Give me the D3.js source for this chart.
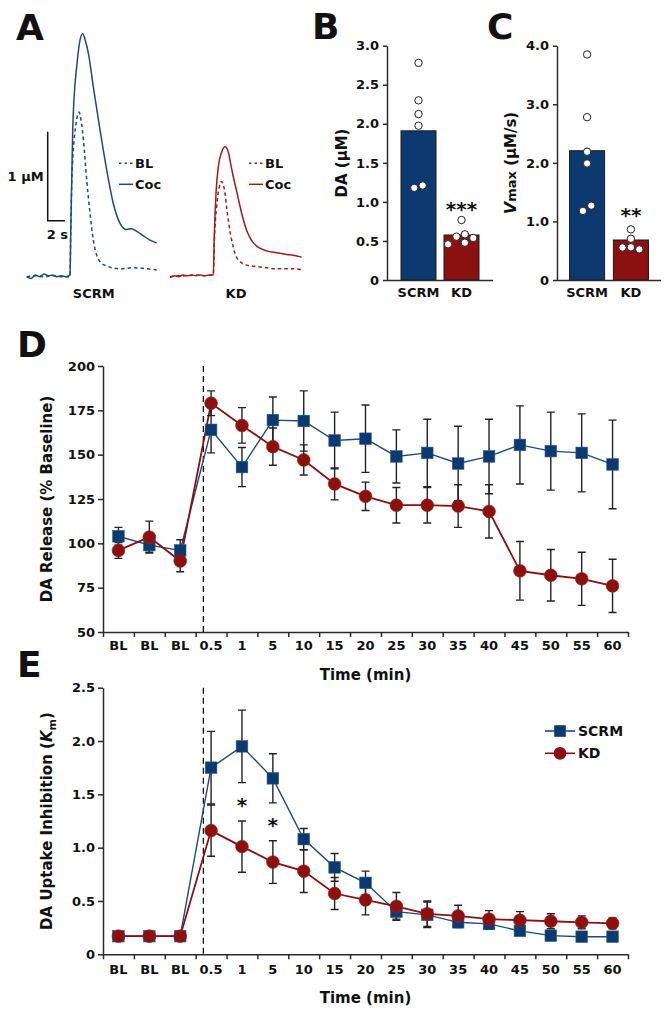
<!DOCTYPE html>
<html><head><meta charset="utf-8">
<script src="https://cdn.jsdelivr.net/npm/d3@7"></script>
<style>
body{margin:0;background:#fff}
svg{display:block}
text{font-family:"DejaVu Sans",sans-serif;font-weight:bold;fill:#111}
</style>
</head><body><svg id="c" width="670" height="1017"></svg>
<script>
// ---------------- DATA ----------------
// Panel A traces (time s, DA µM)
const scrmCocT = [0,0.5,1,1.5,2,2.5,3,3.5,4,4.5,5.0,5.08,5.19,5.3,5.46,5.77,6.08,6.46,6.75,7.12,7.69,8.46,9.23,10.0,10.77,11.54,12.1,12.7,13.46,14.23,15];
const scrmCocV = [0,-0.02,0.02,0.0,0.03,0.01,0.02,0.0,0.01,0.0,0.02,0.49,1.05,1.61,2.0,2.36,2.62,2.73,2.66,2.51,2.13,1.65,1.20,0.82,0.60,0.53,0.54,0.51,0.46,0.41,0.38];
const scrmBlT = [0,1,2,3,4,5.0,5.08,5.19,5.38,5.65,6.04,6.27,6.54,6.92,7.31,7.69,8.08,8.46,9.23,10.77,12.3,13.85,15];
const scrmBlV = [0,0.01,0.0,0.01,0.0,0.0,0.49,1.01,1.42,1.69,1.85,1.76,1.54,1.09,0.71,0.41,0.24,0.17,0.12,0.09,0.10,0.09,0.075];
const kdCocT = [0,0.5,1,1.5,2,2.5,3,3.5,4,4.5,5.0,5.12,5.31,5.58,5.96,6.35,6.73,7.0,7.31,7.69,8.08,8.46,8.85,9.23,9.62,10.38,11.15,12.3,13.46,14.23,15.2];
const kdCocV = [-0.01,0.01,0.0,0.02,0.01,0.02,0.01,0.02,0.01,0.02,0.02,0.49,0.94,1.24,1.40,1.46,1.40,1.27,1.12,0.96,0.79,0.64,0.52,0.44,0.38,0.32,0.29,0.27,0.25,0.24,0.22];
const kdBlT = [0,1,2,3,4,5.0,5.12,5.38,5.69,5.96,6.15,6.35,6.54,6.73,6.92,7.12,7.5,8.08,8.85,10.38,12.3,14.23,15.2];
const kdBlV = [0,0.01,0.01,0.02,0.01,0.02,0.41,0.79,1.01,1.07,1.03,0.94,0.77,0.64,0.51,0.41,0.26,0.17,0.13,0.11,0.09,0.09,0.08];

// Panel B / C
const groups = ["SCRM","KD"];
const daMeans = [1.91, 0.576];
const daSCRM = [2.78, 2.30, 2.125, 1.975, 1.21, 1.18];
const daKD = [0.768, 0.585, 0.555, 0.538, 0.478, 0.457];
const daTicks = [0,0.5,1.0,1.5,2.0,2.5,3.0];
const vmaxMeans = [2.207, 0.683];
const vmaxSCRM = [3.85, 2.78, 2.19, 1.99, 1.27, 1.18];
const vmaxKD = [0.865, 0.705, 0.558, 0.555, 0.523];
const vmaxTicks = [0,1.0,2.0,3.0,4.0];

// Panel D / E
const timeLabels = ["BL","BL","BL","0.5","1","5","10","15","20","25","30","35","40","45","50","55","60"];
const releaseSCRM = [104, 99, 96, 164, 143, 169.5, 169, 158, 159, 149, 151, 145, 149, 155.5, 152, 151, 144.5];
const releaseSCRMErr = [5, 4, 6, 13, 11, 13, 17, 16, 19, 15, 19, 21, 21, 22, 22, 22, 25];
const releaseKD = [96, 103.5, 90, 179, 166.5, 154.5, 147, 133.5, 126.5, 121.5, 121.5, 121, 118, 84.5, 82, 80, 76];
const releaseKDErr = [4.5, 9, 6, 7, 10, 10.5, 8.5, 9, 8, 10, 10, 12, 15, 16.5, 14.5, 15, 15];
const releaseTicks = [50,75,100,125,150,175,200];
const uptakeSCRM = [0.17,0.17,0.17,1.75,1.95,1.65,1.08,0.815,0.67,0.40,0.37,0.30,0.285,0.22,0.175,0.165,0.165];
const uptakeSCRMErr = [0.02,0.02,0.02,0.34,0.34,0.23,0.10,0.13,0.11,0.07,0.12,0.05,0.05,0.04,0.03,0.03,0.03];
const uptakeKD = [0.17,0.17,0.17,1.16,1.01,0.865,0.78,0.57,0.51,0.45,0.38,0.36,0.33,0.32,0.31,0.30,0.29];
const uptakeKDErr = [0.02,0.02,0.02,0.24,0.24,0.20,0.20,0.15,0.14,0.13,0.12,0.10,0.08,0.08,0.07,0.06,0.05];
const uptakeTicks = [0,0.5,1.0,1.5,2.0,2.5];
const uptakeStars = ["1","5"];

// ---------------- STYLE ----------------
const NAVY = "#0c3a70", RED = "#8b1010";
const TBLUE = "#1d4a7f", TRED = "#a01c1c";
const AX = "#2a2a2a";
const svg = d3.select("#c");

function letter(t, x, y){ svg.append("text").attr("x",x).attr("y",y).attr("font-size",36).text(t); }
letter("A",16,40); letter("B",312,39); letter("C",487,39); letter("D",17,357); letter("E",17,677);

function styleAxis(g){
  g.selectAll("path.domain").attr("stroke",AX).attr("stroke-width",1.5);
  g.selectAll(".tick line").attr("stroke",AX).attr("stroke-width",1.5);
  g.selectAll(".tick text").attr("font-size",13).attr("font-family","DejaVu Sans").attr("font-weight","bold").attr("fill","#111");
}

// ---------------- PANEL A ----------------
const aY = d3.scaleLinear().domain([0,1]).range([276.7,187.7]);
const aXS = d3.scaleLinear().domain([0,15]).range([26.7,156.7]);
const aXK = d3.scaleLinear().domain([0,15]).range([170,300]);
function trace(xs, T, V, color, dashed){
  const line = d3.line().x((d,i)=>xs(T[i])).y(d=>aY(d)).curve(d3.curveMonotoneX);
  svg.append("path").attr("d", line(V)).attr("fill","none").attr("stroke",color)
    .attr("stroke-width",1.5).attr("stroke-dasharray", dashed ? "3.5,3" : null);
}
trace(aXS, scrmBlT, scrmBlV, TBLUE, true);
trace(aXS, scrmCocT, scrmCocV, TBLUE, false);
trace(aXK, kdBlT, kdBlV, TRED, true);
trace(aXK, kdCocT, kdCocV, TRED, false);
// scale bar
{
  const bx = 47.7, by = 220.7;
  const h = aY(0)-aY(1), w = aXS(2)-aXS(0);
  svg.append("path").attr("d",`M${bx},${by-h}V${by}H${bx+w}`).attr("fill","none").attr("stroke","#111").attr("stroke-width",1.5);
  svg.append("text").attr("x",bx-4).attr("y",by-h/2+5).attr("text-anchor","end").attr("font-size",13).text("1 µM");
  svg.append("text").attr("x",bx+w/2+1).attr("y",by+18).attr("text-anchor","middle").attr("font-size",13).text("2 s");
}
function aLegend(x, color){
  svg.append("line").attr("x1",x).attr("x2",x+14).attr("y1",163.3).attr("y2",163.3).attr("stroke",color).attr("stroke-width",1.5).attr("stroke-dasharray","2.5,3");
  svg.append("text").attr("x",x+16).attr("y",168).attr("font-size",13).text("BL");
  svg.append("line").attr("x1",x).attr("x2",x+14).attr("y1",184.3).attr("y2",184.3).attr("stroke",color).attr("stroke-width",1.5);
  svg.append("text").attr("x",x+16).attr("y",189).attr("font-size",13).text("Coc");
}
aLegend(119, TBLUE); aLegend(249, TRED);
svg.append("text").attr("x",(aXS(0)+aXS(15))/2+2).attr("y",298).attr("text-anchor","middle").attr("font-size",13).text("SCRM");
svg.append("text").attr("x",(aXK(0)+aXK(15))/2+1).attr("y",298).attr("text-anchor","middle").attr("font-size",13).text("KD");

// ---------------- PANELS B / C ----------------
function dodge(vals, y, cx, r, d){
  const placed = [];
  vals.forEach(v=>{
    const py = y(v);
    for (const k of [0,-1,1,-2,2]){
      const px = cx + k*d;
      if (placed.every(p=>Math.hypot(p.x-px,p.y-py) >= 2*r)){ placed.push({x:px,y:py}); return; }
    }
    placed.push({x:cx,y:py});
  });
  // centre each vertically-chained cluster on the bar centre
  const sorted = placed.slice().sort((a,b)=>a.y-b.y);
  let cluster = [sorted[0]];
  const flush = c => { const m = d3.mean(c, p=>p.x) - cx; c.forEach(p=>p.x -= m); };
  for (let i=1;i<sorted.length;i++){
    if (sorted[i].y - sorted[i-1].y < 2*r) cluster.push(sorted[i]);
    else { flush(cluster); cluster = [sorted[i]]; }
  }
  flush(cluster);
  return placed;
}
function barPanel(opt){
  const g = svg.append("g");
  const x = d3.scaleBand().domain(groups).range(opt.xr).paddingInner(opt.pi).paddingOuter(opt.po);
  const y = d3.scaleLinear().domain([0,opt.ymax]).range([280,45.7]);
  g.selectAll("rect.bar").data(opt.means).join("rect")
    .attr("x",(d,i)=>x(groups[i])).attr("width",x.bandwidth())
    .attr("y",d=>y(d)).attr("height",d=>y(0)-y(d))
    .attr("fill",(d,i)=>i===0?NAVY:RED).attr("stroke","#1a1a1a").attr("stroke-width",1);
  [opt.dotsS, opt.dotsK].forEach((vals,i)=>{
    const cx = x(groups[i]) + x.bandwidth()/2;
    const pts = dodge(vals, y, cx, 3.9, 8.4);
    g.selectAll(null).data(pts).join("circle")
      .attr("cx",p=>p.x).attr("cy",p=>p.y).attr("r",3.7)
      .attr("fill","#fff").attr("stroke","#222").attr("stroke-width",1);
  });
  const ya = g.append("g").attr("transform",`translate(${opt.xr[0]},0)`)
    .call(d3.axisLeft(y).tickValues(opt.ticks).tickFormat(opt.fmt).tickSize(4).tickSizeOuter(0).tickPadding(4));
  styleAxis(ya);
  const xa = g.append("g").attr("transform",`translate(0,280)`)
    .call(d3.axisBottom(x).tickSize(0).tickPadding(8).tickSizeOuter(0));
  styleAxis(xa);
  xa.select("path.domain").attr("d",`M${opt.xr[0]},0.5H${opt.xr[1]}`);
  const kdTop = y(d3.max(opt.dotsK));
  g.append("text").attr("x",x("KD")+x.bandwidth()/2).attr("y",kdTop-opt.sg).attr("text-anchor","middle")
    .attr("font-size",20).text(opt.stars);
  return g;
}
barPanel({xr:[387,493], pi:0.186, po:0.326, ymax:3, ticks:daTicks, sg:4,
  fmt:d=>d===0?"0":d3.format(".1f")(d), means:daMeans, dotsS:daSCRM, dotsK:daKD, stars:"***"});
barPanel({xr:[557,661], pi:0.2, po:0.286, ymax:4, ticks:vmaxTicks, sg:7,
  fmt:d=>d===0?"0":d3.format(".1f")(d), means:vmaxMeans, dotsS:vmaxSCRM, dotsK:vmaxKD, stars:"**"});
svg.append("text").attr("transform","translate(347,163) rotate(-90)").attr("text-anchor","middle").attr("font-size",15).text("DA (µM)");
{
  const t = svg.append("text").attr("transform","translate(516,163) rotate(-90)").attr("text-anchor","middle").attr("font-size",15);
  t.append("tspan").attr("font-style","italic").attr("font-size",16).text("V");
  t.append("tspan").attr("font-size",13).text("max");
  t.append("tspan").text(" (µM/s)");
}

// ---------------- PANELS D / E ----------------
function timePanel(opt){
  const g = svg.append("g");
  const idx = d3.range(timeLabels.length);
  const x = d3.scaleBand().domain(idx).range([103,628]);
  const xb = d3.scaleLinear().domain([0,timeLabels.length]).range([103,628]);
  const y = d3.scaleLinear().domain(opt.ydom).range(opt.yr);
  const cx = i => x(i) + x.bandwidth()/2;
  const dx = xb(3) + x.bandwidth()*0.25;
  g.append("line").attr("x1",dx).attr("x2",dx).attr("y1",opt.yr[1]).attr("y2",opt.yr[0])
    .attr("stroke","#111").attr("stroke-width",1.3).attr("stroke-dasharray","6,4");
  const ya = g.append("g").attr("transform","translate(103,0)")
    .call(d3.axisLeft(y).tickValues(opt.ticks).tickFormat(opt.fmt).tickSize(5).tickSizeOuter(0).tickPadding(3));
  styleAxis(ya);
  const xa = g.append("g").attr("transform",`translate(0,${opt.yr[0]})`)
    .call(d3.axisBottom(xb).tickValues(d3.range(timeLabels.length+1)).tickFormat("").tickSize(5).tickSizeOuter(0));
  styleAxis(xa);
  const xl = g.append("g").attr("transform",`translate(0,${opt.yr[0]})`)
    .call(d3.axisBottom(x).tickFormat(i=>timeLabels[i]).tickSize(0).tickPadding(opt.lp));
  styleAxis(xl); xl.select("path.domain").remove();
  g.append("text").attr("x",(103+628)/2).attr("y",opt.titleY).attr("text-anchor","middle").attr("font-size",15).text("Time (min)");
  const series = [
    {v:opt.s, e:opt.se, c:NAVY, lc:"#1a4a80", w:1.4, shape:"square"},
    {v:opt.k, e:opt.ke, c:RED, lc:RED, w:1.8, shape:"circle"}
  ];
  series.forEach(s=>{
    g.append("path").attr("d", d3.line().x((d,i)=>cx(i)).y(d=>y(d))(s.v))
      .attr("fill","none").attr("stroke",s.lc).attr("stroke-width",s.w);
  });
  series.forEach(s=>{
    const eb = g.append("g").attr("stroke","#222").attr("stroke-width",1.4).attr("fill","none");
    s.v.forEach((v,i)=>{
      const x0 = cx(i), y1 = y(v+s.e[i]), y2 = y(v-s.e[i]);
      eb.append("path").attr("d",`M${x0},${y1}V${y2}M${x0-4},${y1}H${x0+4}M${x0-4},${y2}H${x0+4}`);
    });
  });
  series.forEach(s=>{
    if (s.shape==="square"){
      g.selectAll(null).data(s.v).join("rect")
        .attr("x",(d,i)=>cx(i)-5.8).attr("y",d=>y(d)-5.8).attr("width",11.6).attr("height",11.6)
        .attr("fill",s.c).attr("stroke","#2c5a90").attr("stroke-width",0.6);
    } else {
      g.selectAll(null).data(s.v).join("circle")
        .attr("cx",(d,i)=>cx(i)).attr("cy",d=>y(d)).attr("r",6.4).attr("fill",s.c)
        .attr("stroke","#a02020").attr("stroke-width",0.6);
    }
  });
  return {g,x,y,cx};
}
timePanel({ydom:[50,200], yr:[632,366], ticks:releaseTicks, fmt:d3.format("d"), lp:9, titleY:680,
  s:releaseSCRM, se:releaseSCRMErr, k:releaseKD, ke:releaseKDErr});
svg.append("text").attr("transform","translate(52,499) rotate(-90)").attr("text-anchor","middle").attr("font-size",15).text("DA Release (% Baseline)");

const E = timePanel({ydom:[0,2.5], yr:[954.3,687.7], ticks:uptakeTicks, fmt:d=>d===0?"0":d3.format(".1f")(d), lp:10, titleY:1003,
  s:uptakeSCRM, se:uptakeSCRMErr, k:uptakeKD, ke:uptakeKDErr});
{
  const t = svg.append("text").attr("transform","translate(52,821) rotate(-90)").attr("text-anchor","middle").attr("font-size",15);
  t.append("tspan").text("DA Uptake Inhibition (");
  t.append("tspan").attr("font-style","italic").text("K");
  t.append("tspan").attr("font-size",11).attr("dy",4).text("m");
  t.append("tspan").attr("dy",-4).text(")");
}
uptakeStars.forEach(lbl=>{
  const i = timeLabels.indexOf(lbl);
  const top = E.y(uptakeKD[i]+uptakeKDErr[i]);
  svg.append("text").attr("x",E.cx(i)).attr("y",top-9).attr("text-anchor","middle").attr("font-size",20).text("*");
});
{
  const lx = 545, items = [{n:"SCRM",c:NAVY,lc:"#1a4a80",s:"square",y:731},{n:"KD",c:RED,lc:RED,s:"circle",y:753.3}];
  items.forEach(it=>{
    svg.append("line").attr("x1",lx).attr("x2",lx+30).attr("y1",it.y).attr("y2",it.y).attr("stroke",it.lc).attr("stroke-width",1.6);
    if (it.s==="square") svg.append("rect").attr("x",lx+15-5.8).attr("y",it.y-5.8).attr("width",11.6).attr("height",11.6).attr("fill",it.c);
    else svg.append("circle").attr("cx",lx+15).attr("cy",it.y).attr("r",6.4).attr("fill",it.c);
    svg.append("text").attr("x",lx+33).attr("y",it.y+5).attr("font-size",14).text(it.n);
  });
}
</script></body></html>
